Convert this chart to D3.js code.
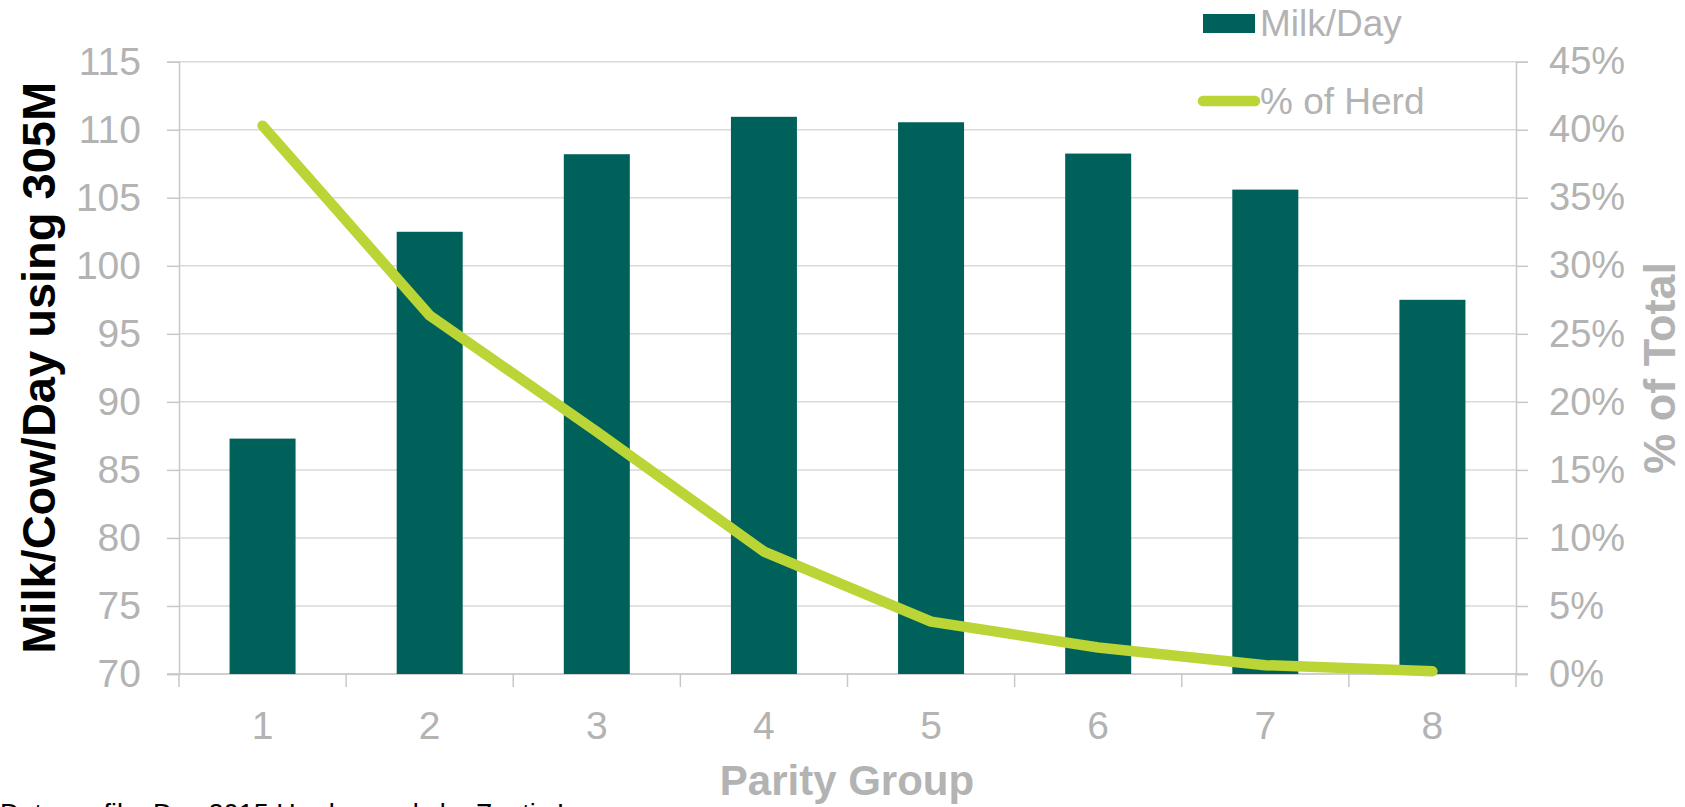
<!DOCTYPE html>
<html>
<head>
<meta charset="utf-8">
<script src="https://cdn.jsdelivr.net/npm/d3@7"></script>
<style>
  html, body { margin: 0; padding: 0; background: #fff; overflow: hidden; }
  svg { display: block; font-family: "Liberation Sans", Arial, sans-serif; }
</style>
</head>
<body>
<svg id="chart" width="1685" height="807"></svg>
<script>
// ---- data ----
const categories = ["1", "2", "3", "4", "5", "6", "7", "8"];
const milkPerDay = [87.3, 102.5, 108.2, 110.95, 110.55, 108.25, 105.6, 97.5];
const pctOfHerd = [40.3, 26.35, 17.8, 9.0, 3.85, 1.95, 0.65, 0.2];
const leftTicks = [70, 75, 80, 85, 90, 95, 100, 105, 110, 115];
const rightTicks = [0, 5, 10, 15, 20, 25, 30, 35, 40, 45];
const seriesNames = ["Milk/Day", "% of Herd"];
const xTitle = "Parity Group";
const yLeftTitle = "Milk/Cow/Day using 305M";
const yRightTitle = "% of Total";
const footnote = "Data profile: Dec 2015 Herd records by Zoetis Inc";

// ---- layout ----
const plot = { left: 179, right: 1516, top: 61.7, bottom: 674 };
const barColor = "#00615a";
const lineColor = "#bad535";
const tickTextColor = "#b3b3b3";
const gridColor = "#d9d9d9";
const axisColor = "#c8c8c8";

const svg = d3.select("#chart");

const x = d3.scaleBand().domain(categories).range([plot.left, plot.right]).padding(0);
const yL = d3.scaleLinear().domain([70, 115]).range([plot.bottom, plot.top]);
const yR = d3.scaleLinear().domain([0, 45]).range([plot.bottom, plot.top]);

// gridlines
svg.append("g").selectAll("line").data(leftTicks).join("line")
  .attr("x1", plot.left).attr("x2", plot.right)
  .attr("y1", d => yL(d)).attr("y2", d => yL(d))
  .attr("stroke", gridColor).attr("stroke-width", 1.5);

// left axis
const gL = svg.append("g").attr("transform", `translate(${plot.left},0)`)
  .call(d3.axisLeft(yL).tickValues(leftTicks).tickSize(12).tickPadding(26).tickFormat(d3.format("d")));
gL.select(".domain").attr("stroke", axisColor).attr("stroke-width", 1.5);
gL.selectAll(".tick line").attr("stroke", axisColor).attr("stroke-width", 1.5);
gL.selectAll(".tick text").attr("fill", tickTextColor).attr("font-size", 39)
  .attr("font-family", "Liberation Sans, Arial, sans-serif");

// right axis
const gR = svg.append("g").attr("transform", `translate(${plot.right},0)`)
  .call(d3.axisRight(yR).tickValues(rightTicks).tickSize(12).tickPadding(21).tickFormat(d => d + "%"));
gR.select(".domain").attr("stroke", axisColor).attr("stroke-width", 1.5);
gR.selectAll(".tick line").attr("stroke", axisColor).attr("stroke-width", 1.5);
gR.selectAll(".tick text").attr("fill", tickTextColor).attr("font-size", 38)
  .attr("font-family", "Liberation Sans, Arial, sans-serif");

// bottom axis line + boundary ticks
const boundaries = categories.map(c => x(c)).concat([x(categories[categories.length - 1]) + x.bandwidth()]);
svg.append("line").attr("x1", plot.left - 12).attr("x2", plot.right + 12)
  .attr("y1", plot.bottom).attr("y2", plot.bottom)
  .attr("stroke", axisColor).attr("stroke-width", 1.5);
svg.append("g").selectAll("line").data(boundaries).join("line")
  .attr("x1", d => d).attr("x2", d => d)
  .attr("y1", plot.bottom).attr("y2", plot.bottom + 13)
  .attr("stroke", axisColor).attr("stroke-width", 1.5);

// bottom labels
const gB = svg.append("g").attr("transform", `translate(0,${plot.bottom})`)
  .call(d3.axisBottom(x).tickSize(0).tickPadding(37));
gB.select(".domain").remove();
gB.selectAll(".tick text").attr("fill", tickTextColor).attr("font-size", 39)
  .attr("font-family", "Liberation Sans, Arial, sans-serif");

// bars
const barFrac = 0.395;
svg.append("g").selectAll("rect").data(categories).join("rect")
  .attr("x", (c) => x(c) + x.bandwidth() * (1 - barFrac) / 2)
  .attr("width", x.bandwidth() * barFrac)
  .attr("y", (c, i) => yL(milkPerDay[i]))
  .attr("height", (c, i) => plot.bottom - yL(milkPerDay[i]))
  .attr("fill", barColor);

// line
const line = d3.line()
  .x((d, i) => x(categories[i]) + x.bandwidth() / 2)
  .y(d => yR(d));
svg.append("path").datum(pctOfHerd)
  .attr("d", line)
  .attr("fill", "none")
  .attr("stroke", lineColor)
  .attr("stroke-width", 10.5)
  .attr("stroke-linecap", "round")
  .attr("stroke-linejoin", "round");

// legend
const lg = svg.append("g");
lg.append("rect").attr("x", 1203).attr("y", 14).attr("width", 52).attr("height", 19).attr("fill", barColor);
lg.append("text").attr("x", 1260).attr("y", 36).text(seriesNames[0])
  .attr("fill", tickTextColor).attr("font-size", 37);
lg.append("line").attr("x1", 1203).attr("x2", 1255).attr("y1", 101).attr("y2", 101)
  .attr("stroke", lineColor).attr("stroke-width", 10.5).attr("stroke-linecap", "round");
lg.append("text").attr("x", 1260).attr("y", 114).text(seriesNames[1])
  .attr("fill", tickTextColor).attr("font-size", 37);

// axis titles
svg.append("text")
  .attr("transform", `translate(38,${(plot.top + plot.bottom) / 2}) rotate(-90)`)
  .attr("text-anchor", "middle").attr("dominant-baseline", "central")
  .attr("font-weight", "bold").attr("font-size", 47).attr("fill", "#000")
  .text(yLeftTitle);

svg.append("text")
  .attr("transform", `translate(1659,${(plot.top + plot.bottom) / 2}) rotate(-90)`)
  .attr("text-anchor", "middle").attr("dominant-baseline", "central")
  .attr("font-weight", "bold").attr("font-size", 45).attr("fill", tickTextColor)
  .text(yRightTitle);

svg.append("text")
  .attr("x", 847).attr("y", 795)
  .attr("text-anchor", "middle")
  .attr("font-weight", "bold").attr("font-size", 42).attr("fill", tickTextColor)
  .text(xTitle);

// footnote (cut off at bottom edge, as in the reference)
svg.append("text")
  .attr("x", 0).attr("y", 823)
  .attr("font-size", 27).attr("fill", "#000")
  .text(footnote);
</script>
</body>
</html>
